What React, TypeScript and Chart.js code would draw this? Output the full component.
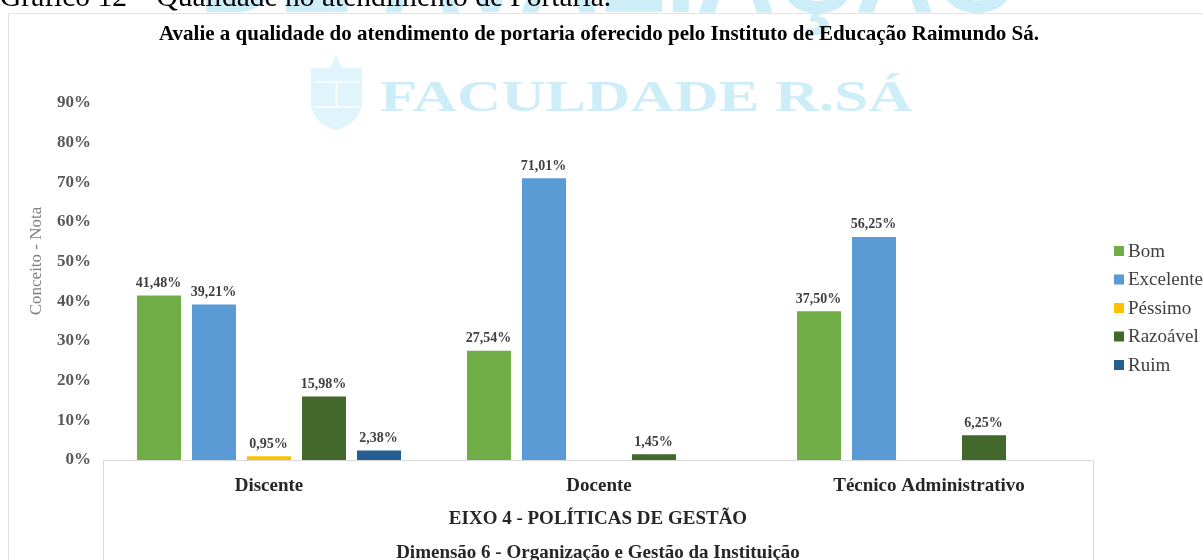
import React, { useEffect, useRef } from "react";
import { Chart, registerables } from "chart.js";

Chart.register(...registerables);

const categories = ["Discente", "Docente", "Técnico Administrativo"];
const bom = [41.48, 27.54, 37.5];
const excelente = [39.21, 71.01, 56.25];
const pessimo = [0.95, null, null];
const razoavel = [15.98, 1.45, 6.25];
const ruim = [2.38, null, null];

const heading = "Gráfico 12 – Qualidade no atendimento de Portaria.";
const chartTitle = "Avalie a qualidade do atendimento de portaria oferecido pelo Instituto de Educação Raimundo Sá.";
const yTitle = "Conceito - Nota";
const level2 = "EIXO 4 - POLÍTICAS DE GESTÃO";
const level3 = "Dimensão 6 - Organização e Gestão da Instituição";
const bannerMark = "DE AVALIAÇÃO";
const logoMark = "FACULDADE R.SÁ";

const SERIF = '"Liberation Serif"';
const WM = "#cdeef8";

const fmt = (v: number) => v.toFixed(2).replace(".", ",") + "%";

const backdrop = {
  id: "backdrop",
  beforeDraw(chart: any) {
    const c = chart.ctx;
    c.save();
    c.fillStyle = "#fff";
    c.fillRect(0, 0, 1203, 560);
    // top banner watermark (only its lower edge is visible)
    c.fillStyle = WM;
    c.font = `bold 110px "Liberation Sans"`;
    c.textAlign = "right";
    c.textBaseline = "alphabetic";
    c.fillText(bannerMark, 1020, 12);
    c.fillStyle = "#000";
    c.textAlign = "left";
    c.font = `29.5px ${SERIF}`;
    c.fillText(heading, 0, 6);
    // logo watermark
    c.fillStyle = WM;
    c.save();
    c.translate(380, 111);
    c.scale(1.39, 1);
    c.font = `bold 44px ${SERIF}`;
    c.fillText(logoMark, 0, 0);
    c.restore();
    // shield
    c.fillStyle = "#dff4fb";
    c.beginPath();
    c.moveTo(311, 68);
    c.lineTo(330, 68);
    c.lineTo(336, 55);
    c.lineTo(342, 68);
    c.lineTo(362, 68);
    c.lineTo(362, 105);
    c.quadraticCurveTo(358, 124, 336, 130);
    c.quadraticCurveTo(314, 124, 311, 105);
    c.closePath();
    c.fill();
    c.strokeStyle = "#ffffff";
    c.lineWidth = 1.5;
    c.beginPath();
    c.moveTo(314, 82);
    c.lineTo(359, 82);
    c.moveTo(314, 107);
    c.lineTo(359, 107);
    c.moveTo(336.5, 82);
    c.lineTo(336.5, 107);
    c.stroke();
    // frame
    c.strokeStyle = "#e4e4e4";
    c.lineWidth = 1;
    c.beginPath();
    c.moveTo(8.5, 560);
    c.lineTo(8.5, 13.5);
    c.lineTo(1203, 13.5);
    c.stroke();
    c.restore();
  },
};

const annotations = {
  id: "annotations",
  afterDatasetsDraw(chart: any) {
    const c = chart.ctx;
    c.save();
    const { left, right, bottom } = chart.chartArea;
    c.strokeStyle = "#d9d9d9";
    c.lineWidth = 1;
    c.beginPath();
    c.moveTo(left - 0.5, 560);
    c.lineTo(left - 0.5, bottom + 0.5);
    c.lineTo(right - 0.5, bottom + 0.5);
    c.lineTo(right - 0.5, 560);
    c.stroke();

    c.textBaseline = "middle";
    c.textAlign = "center";
    c.fillStyle = "#404040";
    c.font = `bold 14px ${SERIF}`;
    chart.data.datasets.forEach((ds: any, i: number) => {
      chart.getDatasetMeta(i).data.forEach((el: any, j: number) => {
        const v = ds.data[j];
        if (v == null) return;
        c.fillText(fmt(v), el.x - 0.5, el.y - 12);
      });
    });

    c.fillStyle = "#000";
    c.font = `bold 21px ${SERIF}`;
    c.fillText(chartTitle, 599, 35);

    c.fillStyle = "#262626";
    c.font = `bold 19px ${SERIF}`;
    c.fillText(level2, 598, 519);
    c.fillText(level3, 598, 553);

    c.save();
    c.translate(37, 261);
    c.rotate(-Math.PI / 2);
    c.fillStyle = "#7f7f7f";
    c.font = `17px ${SERIF}`;
    c.fillText(yTitle, 0, 0);
    c.restore();

    // legend
    const ys = [251, 279.5, 308, 336.5, 365];
    c.textAlign = "left";
    c.font = `19px ${SERIF}`;
    chart.data.datasets.forEach((ds: any, i: number) => {
      c.fillStyle = ds.backgroundColor;
      c.fillRect(1114, ys[i] - 5, 10, 10);
      c.fillStyle = "#404040";
      c.fillText(ds.label, 1128, ys[i] + 1);
    });
    c.restore();
  },
};

export default function App() {
  const ref = useRef<HTMLCanvasElement>(null);
  useEffect(() => {
    document.body.style.margin = "0";
    const bar = (label: string, data: any[], backgroundColor: string) => ({
      label,
      data,
      backgroundColor,
      categoryPercentage: 0.8333,
      barPercentage: 0.8,
    });
    const chart = new Chart(ref.current!, {
      type: "bar",
      data: {
        labels: categories,
        datasets: [
          bar("Bom", bom, "#70ad47"),
          bar("Excelente", excelente, "#5b9bd5"),
          bar("Péssimo", pessimo, "#ffc000"),
          bar("Razoável", razoavel, "#43682b"),
          bar("Ruim", ruim, "#255e91"),
        ],
      },
      options: {
        animation: false,
        responsive: false,
        layout: { padding: { top: 103, right: 109, left: 1, bottom: 0 } },
        plugins: { legend: { display: false }, title: { display: false }, tooltip: { enabled: false } },
        scales: {
          x: {
            grid: { display: false },
            border: { display: false },
            ticks: {
              color: "#262626",
              font: { family: SERIF, size: 19, weight: "bold" },
              padding: 7,
              maxRotation: 0,
            },
            afterFit(s: any) {
              s.height = 100;
            },
          },
          y: {
            min: 0,
            max: 90,
            grid: { display: false },
            border: { display: false },
            ticks: {
              stepSize: 10,
              color: "#595959",
              font: { family: SERIF, size: 17, weight: "bold" },
              padding: 5,
              callback: (v: any) => v + "%",
            },
            afterFit(s: any) {
              s.width = 103;
            },
          },
        },
      },
      plugins: [backdrop, annotations],
    } as any);
    return () => chart.destroy();
  }, []);
  return <canvas ref={ref} width={1203} height={560} style={{ display: "block" }} />;
}
